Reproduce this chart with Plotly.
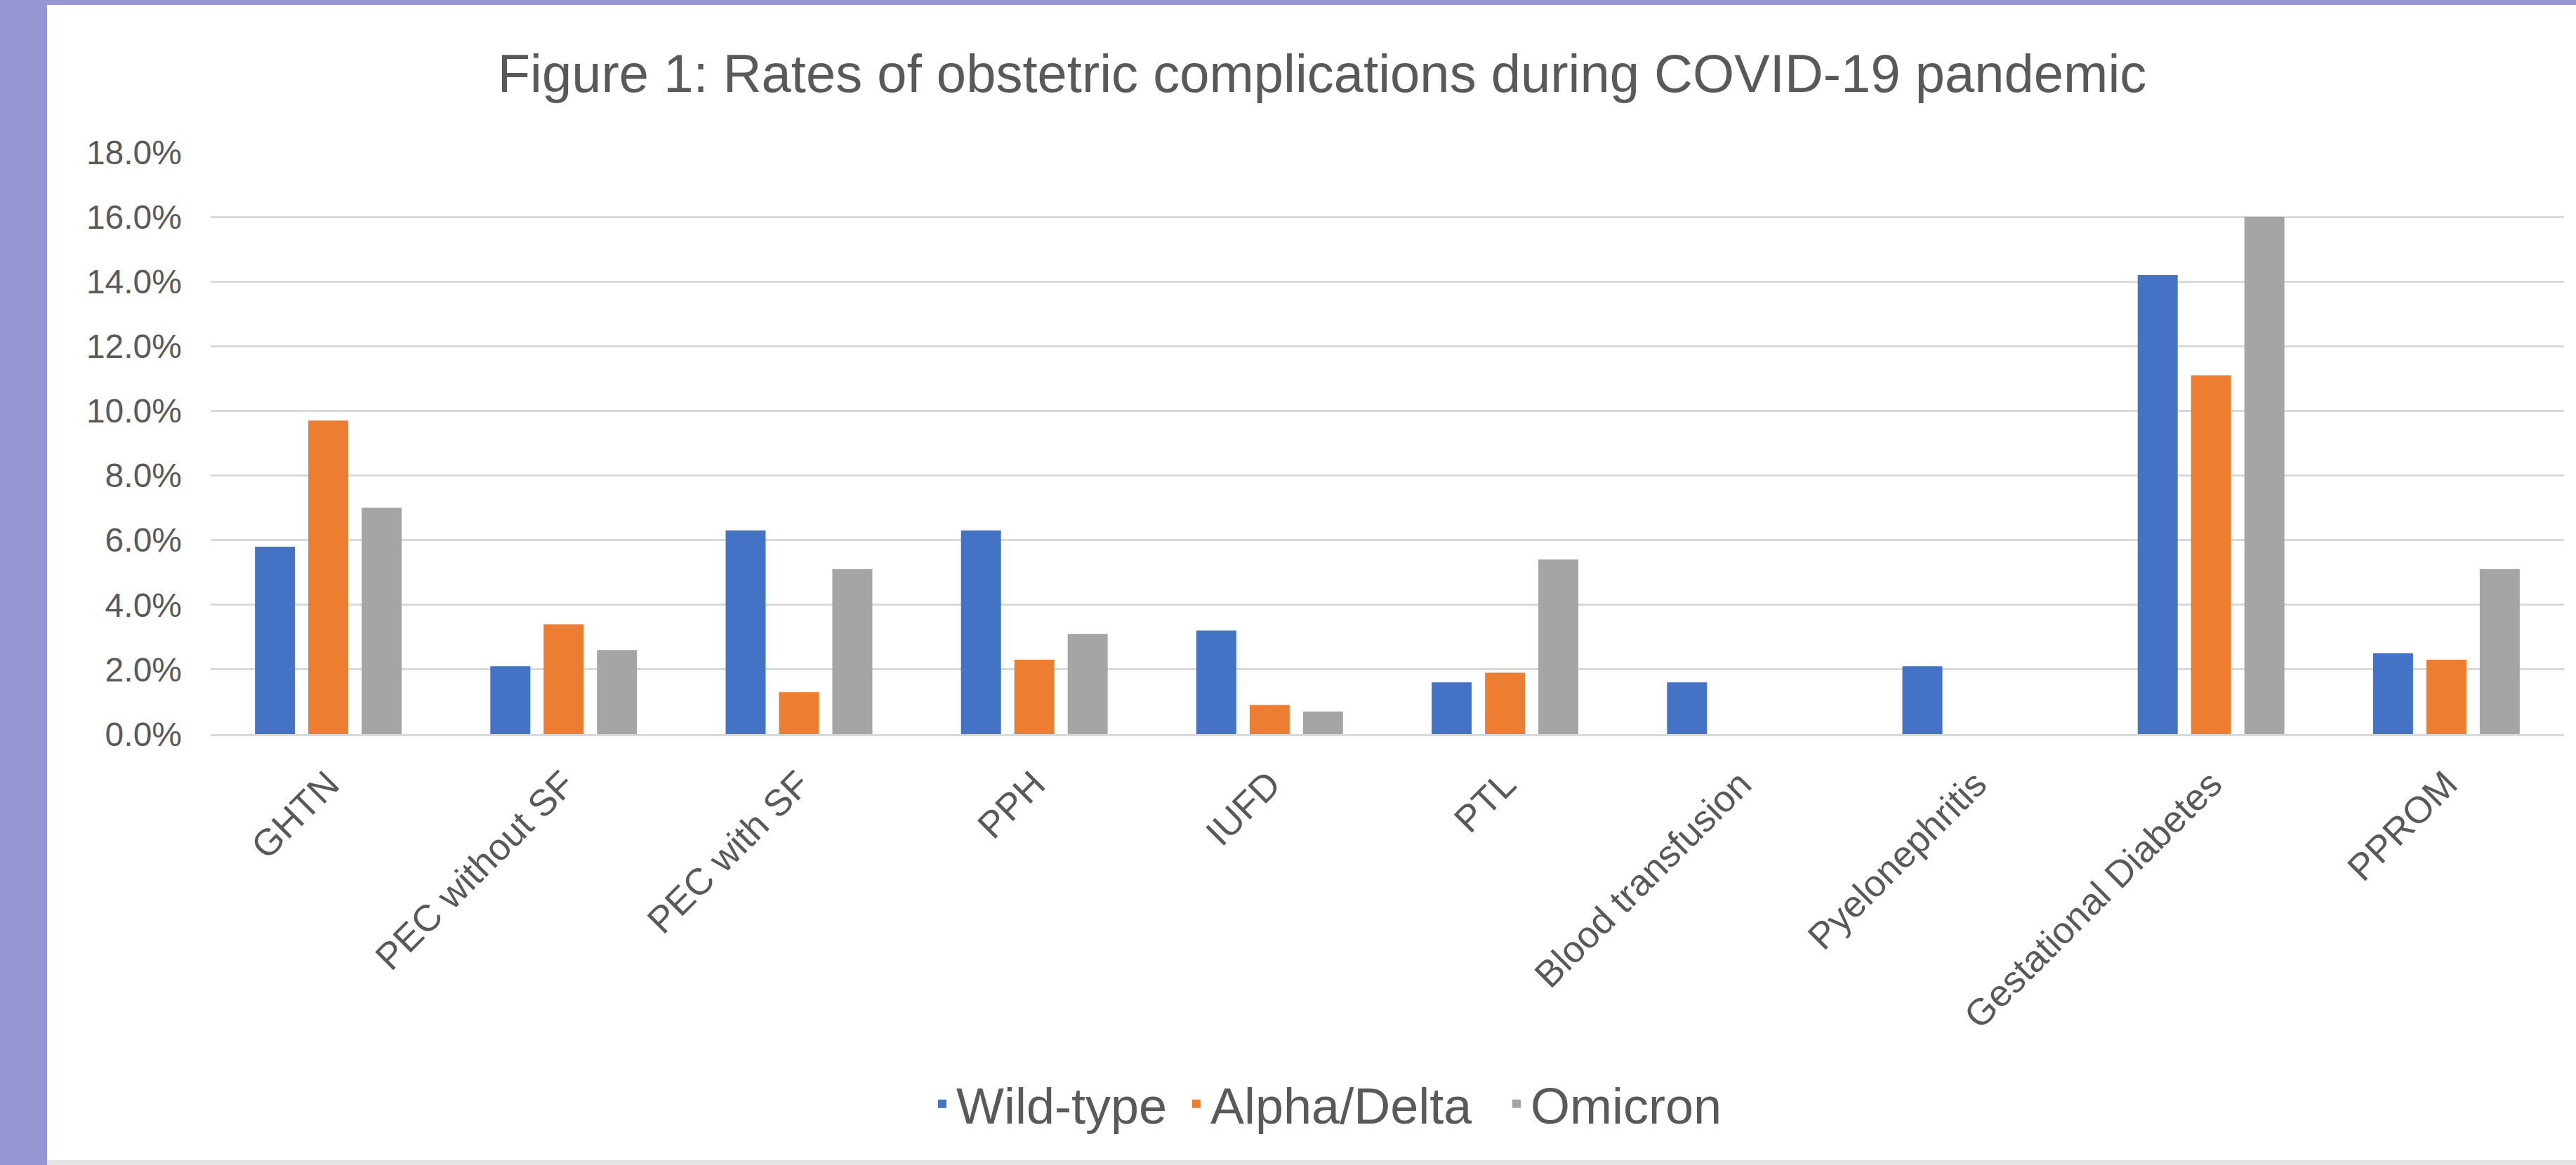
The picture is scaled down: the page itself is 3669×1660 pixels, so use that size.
import plotly.graph_objects as go

# Obstetric complication rates (%) by pandemic wave
categories = [
    "GHTN", "PEC without SF", "PEC with SF", "PPH", "IUFD", "PTL",
    "Blood transfusion", "Pyelonephritis", "Gestational Diabetes", "PPROM",
]
wild_type = [5.8, 2.1, 6.3, 6.3, 3.2, 1.6, 1.6, 2.1, 14.2, 2.5]
alpha_delta = [9.7, 3.4, 1.3, 2.3, 0.9, 1.9, None, None, 11.1, 2.3]
omicron = [7.0, 2.6, 5.1, 3.1, 0.7, 5.4, None, None, 16.0, 5.1]

series_names = ["Wild-type", "Alpha/Delta", "Omicron"]
series_values = [wild_type, alpha_delta, omicron]
series_colors = ["#4472C4", "#ED7D31", "#A5A5A5"]

y_ticks = [0, 2, 4, 6, 8, 10, 12, 14, 16, 18]
y_tick_labels = [f"{v:.1f}%" for v in y_ticks]

W, H = 3669, 1660
ML, MR, MT, MB = 300, 17, 217, 614
PW, PH = W - ML - MR, H - MT - MB

TEXT = "#595959"
FONT = "Liberation Sans, Arial, Helvetica, sans-serif"


def px_x(p):
    return (p - ML) / PW


def px_y(p):
    return (H - MB - p) / PH


# one legend box per series, laid out left to right under the axis
legend_ids = ["legend", "legend2", "legend3"]
legend_left = [1322, 1684, 2140]

fig = go.Figure()
for name, vals, col, lid in zip(series_names, series_values, series_colors, legend_ids):
    fig.add_trace(go.Bar(x=categories, y=vals, name=name, marker_color=col,
                         marker_line_width=0, legend=lid))

legend_style = dict(orientation="h", xanchor="left", y=px_y(1573), yanchor="middle",
                    font=dict(size=72, color=TEXT, family=FONT),
                    bgcolor="rgba(0,0,0,0)", borderwidth=0)

# Purple frame on the left and top edges of the page, light rule at the bottom
shapes = [
    dict(type="rect", xref="paper", yref="paper", x0=px_x(0), x1=px_x(67),
         y0=px_y(H), y1=px_y(0), fillcolor="#9696D2", line_width=0, layer="below"),
    dict(type="rect", xref="paper", yref="paper", x0=px_x(0), x1=px_x(W),
         y0=px_y(7), y1=px_y(0), fillcolor="#9696D2", line_width=0, layer="below"),
    dict(type="rect", xref="paper", yref="paper", x0=px_x(67), x1=px_x(W),
         y0=px_y(H), y1=px_y(1653), fillcolor="#E6E6E6", line_width=0, layer="below"),
]

fig.update_layout(
    width=W, height=H,
    margin=dict(l=ML, r=MR, t=MT, b=MB, pad=0),
    paper_bgcolor="white", plot_bgcolor="white",
    barmode="group", bargap=0.32, bargroupgap=0.25,
    font=dict(family=FONT, color=TEXT),
    title=dict(text="Figure 1: Rates of obstetric complications during COVID-19 pandemic",
               x=1883 / W, xanchor="center", y=1 - 104 / H, yanchor="middle",
               xref="container", yref="container",
               font=dict(size=76, color=TEXT, family=FONT)),
    legend=dict(x=px_x(legend_left[0]), **legend_style),
    legend2=dict(x=px_x(legend_left[1]), **legend_style),
    legend3=dict(x=px_x(legend_left[2]), **legend_style),
    shapes=shapes,
    showlegend=True,
)

fig.update_xaxes(
    type="category", tickangle=-45, showgrid=False, ticks="",
    showline=True, linecolor="#D9D9D9", linewidth=3,
    tickfont=dict(size=53, color=TEXT, family=FONT),
    ticklabelstandoff=16,
)
fig.update_yaxes(
    range=[0, 18], tickvals=y_ticks, ticktext=y_tick_labels,
    showgrid=True, gridcolor="#D9D9D9", gridwidth=3,
    zeroline=False, showline=False, ticks="",
    tickfont=dict(size=48, color=TEXT, family=FONT),
    ticklabelstandoff=40,
)

fig.write_html("out.html")
